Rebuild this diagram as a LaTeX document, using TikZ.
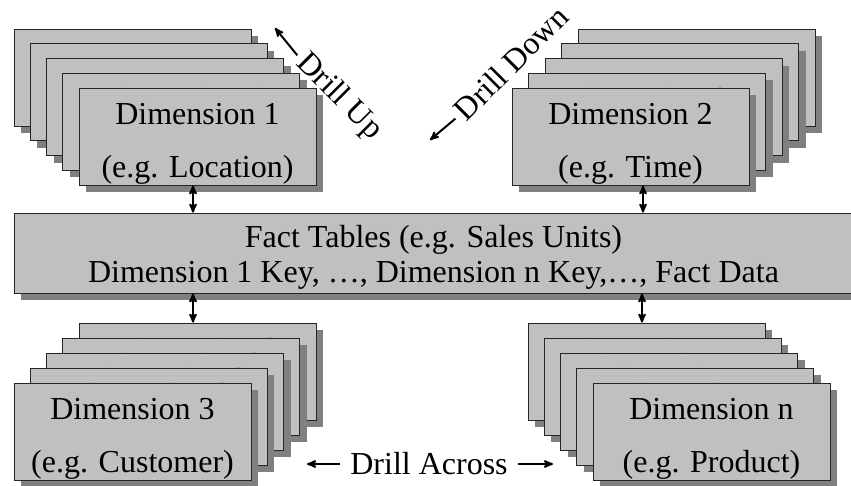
\documentclass[tikz,border=0pt]{standalone}
\usepackage{fontspec}
\setmainfont{Liberation Serif}
\usetikzlibrary{arrows, shadows}
\definecolor{cardgray}{HTML}{C0C0C0}
\definecolor{shadowgray}{HTML}{808080}
\tikzset{>=stealth',
card/.style={draw=black!85, line width=0.8pt, fill=cardgray,
  minimum width=237pt, minimum height=97pt, inner sep=0pt, align=center,
  font=\fontsize{32}{53}\selectfont, text height=89.7pt, text depth=7.3pt,
  drop shadow={shadow xshift=7pt, shadow yshift=-7pt, fill=shadowgray, opacity=1}},
link/.style={<->, line width=2pt},
drill/.style={font=\fontsize{32}{38}\selectfont, inner xsep=5pt}}

\begin{document}
\begin{tikzpicture}[x=1pt, y=-1pt]
\useasboundingbox (0,0) rectangle (851,485);
% fact table
\node[card, minimum width=839pt, minimum height=80pt, font=\fontsize{32}{35}\selectfont,
  text height=69pt, text depth=11pt] (fact) at (433.5,253)
  {Fact Tables (e.g. Sales Units)\\Dimension 1 Key, …, Dimension n Key,…, Fact Data};
% stacked dimension cards, back ones first
\foreach \k in {4,3,2,1} {
  \node[card] (d1-\k) at (197.5-16.25*\k, 136.5-14.75*\k) {Dimension 1\\(e.g. Location)};
  \node[card] (d2-\k) at (630.5+16.5*\k, 136.5-14.75*\k) {Dimension 2\\(e.g. Time)};
  \node[card] (d3-\k) at (132.5+16.25*\k, 431.5-15*\k) {Dimension 3\\(e.g. Customer)};
  \node[card] (dn-\k) at (711.5-16.25*\k, 431.5-15*\k) {Dimension n\\(e.g. Product)};
}
\node[card] (d1) at (197.5,136.5) {Dimension 1\\(e.g. Location)};
\node[card] (d2) at (630.5,136.5) {Dimension 2\\(e.g. Time)};
\node[card] (d3) at (132.5,431.5) {Dimension 3\\(e.g. Customer)};
\node[card] (dn) at (711.5,431.5) {Dimension n\\(e.g. Product)};
% links to the fact table
\draw[link] ([xshift=-4.5pt]d1.south) -- ([xshift=-4.5pt]d1.south |- fact.north);
\draw[link] ([xshift=12.5pt]d2.south) -- ([xshift=12.5pt]d2.south |- fact.north);
\draw[link] ([xshift=-4.5pt]d3-4.north |- fact.south) -- ([xshift=-4.5pt]d3-4.north);
\draw[link] ([xshift=-4.5pt]dn-4.north |- fact.south) -- ([xshift=-4.5pt]dn-4.north);
% drill labels
\node[drill, rotate=-45] (up) at (339,97) {Drill Up};
\coordinate (upto) at (275,28);
\draw[->, line width=2pt] (up.west) -- (upto);
\node[drill, rotate=45] (down) at (511,63) {Drill Down};
\coordinate (downto) at (430,140);
\draw[->, line width=2pt] (down.west) -- (downto);
\node[drill, inner xsep=10pt] (across) at (429,464) {Drill Across};
\coordinate (acrossl) at (307,464);
\coordinate (acrossr) at (553,464);
\draw[->, line width=2pt] (across.west) -- (acrossl);
\draw[->, line width=2pt] (across.east) -- (acrossr);
\end{tikzpicture}
\end{document}
